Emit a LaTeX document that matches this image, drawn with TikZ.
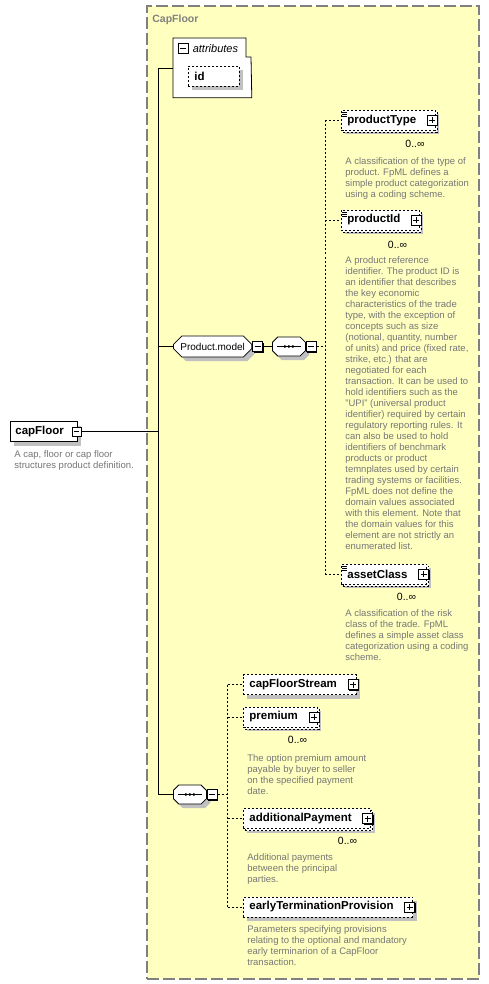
\documentclass[tikz,border=0pt]{standalone}
\usepackage{fontspec}
\setmainfont{Liberation Sans}
\usetikzlibrary{shapes.misc, shadows, positioning}

\definecolor{grpfill}{RGB}{255,255,192}
\definecolor{grpline}{RGB}{128,128,128}
\definecolor{doctext}{RGB}{118,118,118}
\definecolor{shade}{RGB}{192,192,192}
\newcommand{\pmgap}[1][13pt]{\rule{#1}{0pt}}

\begin{document}
\begin{tikzpicture}[x=1pt, y=-1pt, line width=0.8pt,
  group/.style={draw=grpline, fill=grpfill, line width=1.6pt,
    dash pattern=on 12pt off 4pt, anchor=north west, inner sep=0pt},
  grptitle/.style={anchor=base west, inner sep=0pt, text=grpline,
    font=\fontsize{10.5}{12}\selectfont\bfseries},
  elem/.style={draw, fill=white, anchor=west, minimum height=20pt,
    inner xsep=6pt, font=\fontsize{11.5}{13}\selectfont\bfseries,
    general shadow={fill=shade, shadow xshift=4pt, shadow yshift=-4pt}},
  opt/.style={elem, dash pattern=on 2pt off 2pt},
  multi/.style={opt, general shadow={draw, fill=white,
    dash pattern=on 2pt off 2pt, shadow xshift=2pt, shadow yshift=-2pt}},
  simple/.style={path picture={\foreach \k in {2,4,6}
    \draw[solid, line width=0.6pt] (path picture bounding box.north west)
      ++(1,\k) -- ++(5,0);}},
  model/.style={draw, fill=white, anchor=west, chamfered rectangle,
    chamfered rectangle xsep=5pt, minimum height=19pt, inner xsep=2pt,
    font=\fontsize{10}{12}\selectfont,
    general shadow={fill=shade, shadow xshift=4pt, shadow yshift=-4pt}},
  seq/.style={model, minimum width=33pt, path picture={
    \draw (path picture bounding box.center) ++(-12,0) -- ++(24,0);
    \foreach \d in {-4,0,4}
      \fill[black] (path picture bounding box.center) ++(\d,0) circle (1.5pt);}},
  pmbox/.style={draw, solid, fill=white, minimum size=10pt, inner sep=0pt,
    general shadow={fill=black, shadow xshift=1pt, shadow yshift=-1pt}},
  minusbox/.style={pmbox, path picture={
    \draw ([xshift=2pt]path picture bounding box.west)
      -- ([xshift=-2pt]path picture bounding box.east);}},
  plusbox/.style={pmbox, path picture={
    \draw ([xshift=2pt]path picture bounding box.west)
      -- ([xshift=-2pt]path picture bounding box.east);
    \draw ([yshift=-2pt]path picture bounding box.north)
      -- ([yshift=2pt]path picture bounding box.south);}},
  doc/.style={anchor=north west, inner sep=0pt, align=left, text=doctext,
    font=\fontsize{9.5}{11}\selectfont},
  occ/.style={inner sep=0pt, font=\fontsize{10.5}{12}\selectfont},
  link/.style={dash pattern=on 2pt off 2pt}
]
\path[fill=white, use as bounding box] (0,0) rectangle (489,984);

% complex type frame
\node[group, minimum width=332pt, minimum height=973pt] (grp) at (146,5) {};
\node[grptitle] (grp-t) at (152,23) {CapFloor};

% attributes
\node[anchor=north west, minimum width=78pt, minimum height=59pt,
  inner sep=0pt] (attrs) at (173,38) {};
\draw[fill=white] (attrs.north west) -- ++(73,0) -- ++(0,19) -- ++(5,0)
  -- (attrs.south east) -- (attrs.south west) -- cycle;
\node[minusbox] (attrs-m) at (183,48.5) {};
\node[inner sep=0pt, font=\fontsize{11}{13}\selectfont\itshape,
  right=4pt of attrs-m] (attrs-t) {attributes};
\node[opt, anchor=north west, text width=39pt, align=left]
  (idAttr) at (188,66) {id};

% trunk
\coordinate (trunkTop) at (158,68.5);
\coordinate (trunkBot) at (158,794.5);
\draw (trunkTop) -- (trunkBot);
\draw (trunkTop) -- (trunkTop -| attrs.west);

% root element
\node[elem, inner xsep=5pt] (capFloor) at (10,431.5) {capFloor\pmgap[8pt]};
\node[minusbox, minimum size=9pt, anchor=east] (capFloor-m)
  at ([xshift=4pt]capFloor.east) {};
\draw (capFloor-m.east) -- (capFloor-m.east -| trunkTop);
\node[doc] (capFloor-d) at (14,450)
  {A cap, floor or cap floor\\structures product definition.};

% Product.model group
\node[model] (model) at (173,346.5) {Product.model};
\node[minusbox, anchor=west] (model-m) at (model.east) {};
\draw (model.west -| trunkTop) -- (model.west);
\node[seq] (seqA) at (272,346.5) {};
\node[minusbox, anchor=west] (seqA-m) at (seqA.east) {};
\draw (model-m.east) -- (seqA.west);
\coordinate (railA) at (325,346.5);
\draw[link] (seqA-m.east) -- (railA);

\node[multi, simple] (productType) at (341,120.5) {productType\pmgap};
\node[plusbox, anchor=east] (productType-p)
  at ([xshift=2pt]productType.east) {};
\node[occ] (productType-o) at (415,143.5) {0..∞};
\node[doc] (productType-d) at (345,157)
  {A classification of the type of\\product. FpML defines a\\simple product categorization\\using a coding scheme.};

\node[multi, simple] (productId) at (341,220) {productId\pmgap};
\node[plusbox, anchor=east] (productId-p)
  at ([xshift=2pt]productId.east) {};
\node[occ] (productId-o) at (397.5,244.5) {0..∞};
\node[doc] (productId-d) at (345,256)
  {A product reference\\identifier. The product ID is\\an identifier that describes\\the key economic\\characteristics of the trade\\type, with the exception of\\concepts such as size\\(notional, quantity, number\\of units) and price (fixed rate,\\strike, etc.) that are\\negotiated for each\\transaction. It can be used to\\hold identifiers such as the\\"UPI" (universal product\\identifier) required by certain\\regulatory reporting rules. It\\can also be used to hold\\identifiers of benchmark\\products or product\\temnplates used by certain\\trading systems or facilities.\\FpML does not define the\\domain values associated\\with this element. Note that\\the domain values for this\\element are not strictly an\\enumerated list.};

\node[multi, simple] (assetClass) at (341,574) {assetClass\pmgap};
\node[plusbox, anchor=east] (assetClass-p)
  at ([xshift=2pt]assetClass.east) {};
\node[occ] (assetClass-o) at (406.5,597) {0..∞};
\node[doc] (assetClass-d) at (345,609)
  {A classification of the risk\\class of the trade. FpML\\defines a simple asset class\\categorization using a coding\\scheme.};

\draw[link] (railA |- productType.west) -- (railA |- assetClass.west);
\foreach \e in {productType,productId,assetClass}
  \draw[link] (railA |- \e.west) -- (\e.west);

% CapFloor sequence
\node[seq] (seqB) at (173,794.5) {};
\node[minusbox, anchor=west] (seqB-m) at (seqB.east) {};
\draw (seqB.west -| trunkTop) -- (seqB.west);
\coordinate (railB) at (227.5,794.5);
\draw[link] (seqB-m.east) -- (railB);

\node[opt] (capFloorStream) at (243,684.5) {capFloorStream\pmgap};
\node[plusbox, anchor=east] (capFloorStream-p)
  at ([xshift=2pt]capFloorStream.east) {};

\node[multi] (premium) at (243,717) {premium\pmgap};
\node[plusbox, anchor=east] (premium-p) at ([xshift=2pt]premium.east) {};
\node[occ] (premium-o) at (297.5,740) {0..∞};
\node[doc] (premium-d) at (247,754)
  {The option premium amount\\payable by buyer to seller\\on the specified payment\\date.};

\node[multi] (additionalPayment) at (243,818.5) {additionalPayment\pmgap};
\node[plusbox, anchor=east] (additionalPayment-p)
  at ([xshift=2pt]additionalPayment.east) {};
\node[occ] (additionalPayment-o) at (347.5,840.5) {0..∞};
\node[doc] (additionalPayment-d) at (247,853)
  {Additional payments\\between the principal\\parties.};

\node[opt] (earlyTermination) at (243,907) {earlyTerminationProvision\pmgap};
\node[plusbox, anchor=east] (earlyTermination-p)
  at ([xshift=2pt]earlyTermination.east) {};
\node[doc] (earlyTermination-d) at (247,925)
  {Parameters specifying provisions\\relating to the optional and mandatory\\early terminarion of a CapFloor\\transaction.};

\draw[link] (railB |- capFloorStream.west) -- (railB |- earlyTermination.west);
\foreach \e in {capFloorStream,premium,additionalPayment,earlyTermination}
  \draw[link] (railB |- \e.west) -- (\e.west);
\end{tikzpicture}
\end{document}
